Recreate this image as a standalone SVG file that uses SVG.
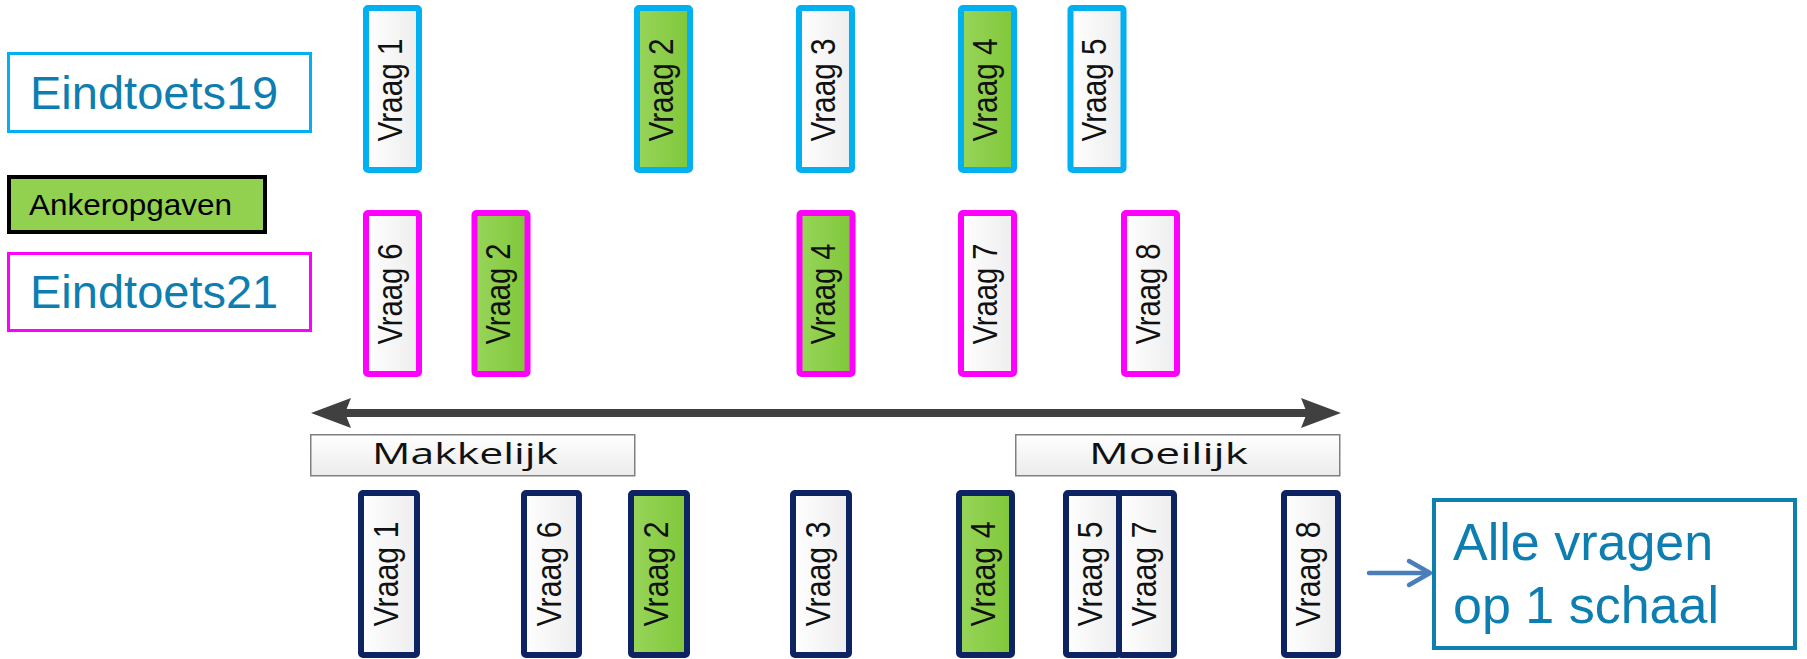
<svg xmlns="http://www.w3.org/2000/svg" width="1807" height="659" viewBox="0 0 1807 659">
<defs>
<linearGradient id="gw" x1="0" y1="0" x2="1" y2="0"><stop offset="0" stop-color="#FFFFFF"/><stop offset="1" stop-color="#EDEDED"/></linearGradient>
<linearGradient id="gg" x1="0" y1="0" x2="1" y2="0"><stop offset="0" stop-color="#98D55A"/><stop offset="1" stop-color="#80C73A"/></linearGradient>
<linearGradient id="gl" x1="0" y1="0" x2="0" y2="1"><stop offset="0" stop-color="#FFFFFF"/><stop offset="1" stop-color="#EBEBEB"/></linearGradient>
<marker id="ah" markerUnits="userSpaceOnUse" markerWidth="44" markerHeight="32" refX="8" refY="15" orient="auto-start-reverse" viewBox="0 0 44 32"><path d="M0,0 L40,15 L0,30 L6,15 Z" fill="#404040"/></marker>
</defs>
<style>
.v{stroke-width:6}
.cy{stroke:#00B0F0}
.mg{stroke:#FF00FF}
.nv{stroke:#0E2462}
.w{fill:url(#gw)}
.g{fill:url(#gg)}
.vt{font-family:"Liberation Sans",Arial,sans-serif;font-size:35px;fill:#111;text-anchor:middle}
.lab{font-family:"Liberation Sans",Arial,sans-serif;fill:#0E7EB0}
.scale{font-family:"Open Sans","DejaVu Sans",sans-serif;font-size:30px;fill:#111;text-anchor:middle}
</style>

<g id="legend">
<g id="eindtoets19"><rect x="8.5" y="53.5" width="302" height="78" fill="#fff" stroke="#00B0F0" stroke-width="3"/><text class="lab" x="30" y="109" font-size="47">Eindtoets19</text></g>
<g id="ankeropgaven"><rect x="9" y="177" width="256" height="55" fill="#92D050" stroke="#000" stroke-width="4"/><text x="29" y="215" font-family="Liberation Sans,Arial,sans-serif" font-size="30" fill="#000" textLength="203" lengthAdjust="spacingAndGlyphs">Ankeropgaven</text></g>
<g id="eindtoets21"><rect x="8.5" y="253.5" width="302" height="77" fill="#fff" stroke="#FF00FF" stroke-width="3"/><text class="lab" x="30" y="308" font-size="47">Eindtoets21</text></g>
</g>

<g id="row19">
<g id="t-v1"><rect class="v cy w" x="366" y="8" width="53" height="162" rx="2"/><text class="vt" transform="translate(401.5,90) rotate(-90)" textLength="103" lengthAdjust="spacingAndGlyphs">Vraag 1</text></g>
<g id="t-v2"><rect class="v cy g" x="637" y="8" width="53" height="162" rx="2"/><text class="vt" transform="translate(672.5,90) rotate(-90)" textLength="103" lengthAdjust="spacingAndGlyphs">Vraag 2</text></g>
<g id="t-v3"><rect class="v cy w" x="799" y="8" width="53" height="162" rx="2"/><text class="vt" transform="translate(834.5,90) rotate(-90)" textLength="103" lengthAdjust="spacingAndGlyphs">Vraag 3</text></g>
<g id="t-v4"><rect class="v cy g" x="961" y="8" width="53" height="162" rx="2"/><text class="vt" transform="translate(996.5,90) rotate(-90)" textLength="103" lengthAdjust="spacingAndGlyphs">Vraag 4</text></g>
<g id="t-v5"><rect class="v cy w" x="1070.5" y="8" width="53" height="162" rx="2"/><text class="vt" transform="translate(1106,90) rotate(-90)" textLength="103" lengthAdjust="spacingAndGlyphs">Vraag 5</text></g>
</g>

<g id="row21">
<g id="m-v6"><rect class="v mg w" x="366" y="213" width="53" height="161" rx="2"/><text class="vt" transform="translate(401.5,294) rotate(-90)" textLength="101" lengthAdjust="spacingAndGlyphs">Vraag 6</text></g>
<g id="m-v2"><rect class="v mg g" x="474.5" y="213" width="53" height="161" rx="2"/><text class="vt" transform="translate(510,294) rotate(-90)" textLength="101" lengthAdjust="spacingAndGlyphs">Vraag 2</text></g>
<g id="m-v4"><rect class="v mg g" x="799.5" y="213" width="53" height="161" rx="2"/><text class="vt" transform="translate(835,294) rotate(-90)" textLength="101" lengthAdjust="spacingAndGlyphs">Vraag 4</text></g>
<g id="m-v7"><rect class="v mg w" x="961" y="213" width="53" height="161" rx="2"/><text class="vt" transform="translate(996.5,294) rotate(-90)" textLength="101" lengthAdjust="spacingAndGlyphs">Vraag 7</text></g>
<g id="m-v8"><rect class="v mg w" x="1124" y="213" width="53" height="161" rx="2"/><text class="vt" transform="translate(1159.5,294) rotate(-90)" textLength="101" lengthAdjust="spacingAndGlyphs">Vraag 8</text></g>
</g>

<g id="connectors">
<line x1="343" y1="413" x2="1309" y2="413" stroke="#404040" stroke-width="8" marker-start="url(#ah)" marker-end="url(#ah)"/>
<g fill="none" stroke="#4A7EBB" stroke-width="4.5" stroke-linecap="round" stroke-linejoin="round">
<line x1="1369" y1="573" x2="1428" y2="573"/>
<polyline points="1409,561 1430,573 1409,585"/>
</g>
</g>

<g id="makkelijk"><rect x="310.75" y="434.75" width="324" height="41" fill="url(#gl)" stroke="#808080" stroke-width="1.5"/><text class="scale" x="465" y="464" textLength="186" lengthAdjust="spacingAndGlyphs">Makkelijk</text></g>
<g id="moeilijk"><rect x="1015.75" y="434.75" width="324" height="41" fill="url(#gl)" stroke="#808080" stroke-width="1.5"/><text class="scale" x="1168.5" y="464" textLength="159" lengthAdjust="spacingAndGlyphs">Moeilijk</text></g>

<g id="scale-row">
<g id="b-v1"><rect class="v nv w" x="361" y="493" width="56" height="162" rx="2"/><text class="vt" transform="translate(398,574) rotate(-90)" textLength="105" lengthAdjust="spacingAndGlyphs">Vraag 1</text></g>
<g id="b-v6"><rect class="v nv w" x="524" y="493" width="55" height="162" rx="2"/><text class="vt" transform="translate(560.5,574) rotate(-90)" textLength="105" lengthAdjust="spacingAndGlyphs">Vraag 6</text></g>
<g id="b-v2"><rect class="v nv g" x="631" y="493" width="56" height="162" rx="2"/><text class="vt" transform="translate(668,574) rotate(-90)" textLength="105" lengthAdjust="spacingAndGlyphs">Vraag 2</text></g>
<g id="b-v3"><rect class="v nv w" x="793" y="493" width="56" height="162" rx="2"/><text class="vt" transform="translate(830,574) rotate(-90)" textLength="105" lengthAdjust="spacingAndGlyphs">Vraag 3</text></g>
<g id="b-v4"><rect class="v nv g" x="959" y="493" width="53" height="162" rx="2"/><text class="vt" transform="translate(995,574) rotate(-90)" textLength="105" lengthAdjust="spacingAndGlyphs">Vraag 4</text></g>
<g id="b-v5"><rect class="v nv w" x="1066" y="493" width="53" height="162" rx="2"/><text class="vt" transform="translate(1101.5,574) rotate(-90)" textLength="105" lengthAdjust="spacingAndGlyphs">Vraag 5</text></g>
<g id="b-v7"><rect class="v nv w" x="1119" y="493" width="55" height="162" rx="2"/><text class="vt" transform="translate(1155.5,574) rotate(-90)" textLength="105" lengthAdjust="spacingAndGlyphs">Vraag 7</text></g>
<g id="b-v8"><rect class="v nv w" x="1284" y="493" width="54" height="162" rx="2"/><text class="vt" transform="translate(1320,574) rotate(-90)" textLength="105" lengthAdjust="spacingAndGlyphs">Vraag 8</text></g>
</g>

<g id="alle-vragen"><rect x="1434" y="500" width="361" height="148" fill="#fff" stroke="#0E80B0" stroke-width="4"/><text class="lab" x="1453" y="560" font-size="52">Alle vragen</text><text class="lab" x="1453" y="623" font-size="52">op 1 schaal</text></g>
</svg>
